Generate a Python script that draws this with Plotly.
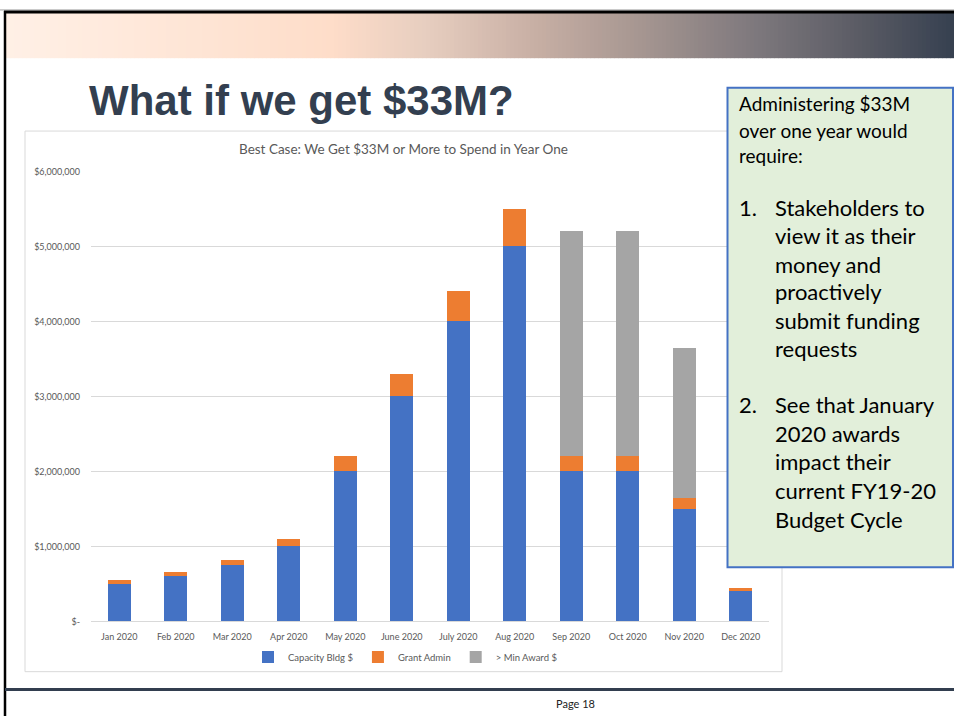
import plotly.graph_objects as go

W, H = 954, 721

months = ["Jan 2020", "Feb 2020", "Mar 2020", "Apr 2020", "May 2020", "June 2020",
          "July 2020", "Aug 2020", "Sep 2020", "Oct 2020", "Nov 2020", "Dec 2020"]
capacity_bldg = [500000, 600000, 750000, 1000000, 2000000, 3000000,
                 4000000, 5000000, 2000000, 2000000, 1500000, 400000]
grant_admin = [50000, 60000, 75000, 100000, 200000, 300000,
               400000, 500000, 200000, 200000, 150000, 40000]
min_award = [0, 0, 0, 0, 0, 0, 0, 0, 3000000, 3000000, 2000000, 0]
y_ticks = [0, 1000000, 2000000, 3000000, 4000000, 5000000, 6000000]
y_ticktext = ["$-", "$1,000,000", "$2,000,000", "$3,000,000", "$4,000,000", "$5,000,000", "$6,000,000"]

box_intro = ["Administering $33M", "over one year would", "require:"]
box_item1 = ["Stakeholders to", "view it as their", "money and", "proactively",
             "submit funding", "requests"]
box_item2 = ["See that January", "2020 awards", "impact their", "current FY19-20",
             "Budget Cycle"]


def px(x):
    return x / W


def py(y):
    return 1 - y / H


fig = go.Figure()
fig.add_trace(go.Bar(name="Capacity Bldg $", x=months, y=capacity_bldg,
                     marker=dict(color="#4472C4", line=dict(width=0))))
fig.add_trace(go.Bar(name="Grant Admin", x=months, y=grant_admin,
                     marker=dict(color="#ED7D31", line=dict(width=0))))
fig.add_trace(go.Bar(name="> Min Award $", x=months, y=min_award,
                     marker=dict(color="#A5A5A5", line=dict(width=0))))

shapes = []
# gradient banner
stops = [(6, (255, 240, 230)), (330, (254, 221, 201)), (430, (230, 205, 191)),
         (530, (201, 176, 165)), (640, (166, 150, 145)), (760, (124, 119, 124)),
         (860, (90, 91, 100)), (954, (54, 64, 80))]
step = 4
x = 6
while x < W:
    xm = x + step / 2
    for i in range(len(stops) - 1):
        if stops[i][0] <= xm <= stops[i + 1][0]:
            t = (xm - stops[i][0]) / (stops[i + 1][0] - stops[i][0])
            c = tuple(int(round(stops[i][1][k] + t * (stops[i + 1][1][k] - stops[i][1][k]))) for k in range(3))
            break
    else:
        c = stops[-1][1]
    shapes.append(dict(type="rect", xref="paper", yref="paper", x0=px(x), x1=px(min(x + step + 0.5, W)),
                       y0=py(53), y1=py(7), fillcolor="rgb(%d,%d,%d)" % c, line=dict(width=0), layer="below"))
    x += step

# slide frame
shapes.append(dict(type="line", xref="paper", yref="paper", x0=0, x1=1, y0=py(4), y1=py(4),
                   line=dict(color="#A0A0A0", width=1)))
shapes.append(dict(type="line", xref="paper", yref="paper", x0=px(4), x1=1, y0=py(6), y1=py(6),
                   line=dict(color="#000000", width=3)))
shapes.append(dict(type="line", xref="paper", yref="paper", x0=px(5), x1=px(5), y0=py(5), y1=0,
                   line=dict(color="#000000", width=2.5)))
# chart box
shapes.append(dict(type="rect", xref="paper", yref="paper", x0=px(25), x1=px(782), y0=py(676), y1=py(127),
                   fillcolor="rgba(0,0,0,0)", line=dict(color="#D9D9D9", width=1), layer="below"))
# text box
shapes.append(dict(type="rect", xref="paper", yref="paper", x0=px(727.5), x1=px(953), y0=py(570), y1=py(83),
                   fillcolor="#E2EFDA", line=dict(color="#4472C4", width=2), layer="above"))
# footer line
shapes.append(dict(type="line", xref="paper", yref="paper", x0=px(5), x1=1, y0=py(694), y1=py(694),
                   line=dict(color="#323E4F", width=3)))

annotations = []
annotations.append(dict(text="<b>What if we get $33M?</b>", x=px(301), y=py(96), xref="paper", yref="paper",
                        showarrow=False, xanchor="center", yanchor="middle",
                        font=dict(family="Liberation Sans, Arial", size=42, color="#333F50")))
annotations.append(dict(text="Best Case: We Get $33M or More to Spend in Year One", x=px(403), y=py(145),
                        xref="paper", yref="paper", showarrow=False, xanchor="center", yanchor="middle",
                        font=dict(family="Lato", size=13.5, color="#595959")))
annotations.append(dict(text="Page 18", x=px(575), y=py(708), xref="paper", yref="paper", showarrow=False,
                        xanchor="center", yanchor="middle", font=dict(family="Lato", size=11, color="#222222")))

box_font = dict(family="Lato", color="#000000")
intro_y = [99, 126, 152]
for t, yy in zip(box_intro, intro_y):
    annotations.append(dict(text=t, x=px(737), y=py(yy), xref="paper", yref="paper", showarrow=False,
                            xanchor="left", yanchor="middle", font=dict(size=19, **box_font)))
item1_y = [205, 233, 262, 290, 319, 348]
item2_y = [405, 434, 463, 492, 521]
annotations.append(dict(text="1.", x=px(737), y=py(item1_y[0]), xref="paper", yref="paper", showarrow=False,
                        xanchor="left", yanchor="middle", font=dict(size=22, **box_font)))
annotations.append(dict(text="2.", x=px(737), y=py(item2_y[0]), xref="paper", yref="paper", showarrow=False,
                        xanchor="left", yanchor="middle", font=dict(size=22, **box_font)))
for t, yy in zip(box_item1, item1_y):
    annotations.append(dict(text=t, x=px(773), y=py(yy), xref="paper", yref="paper", showarrow=False,
                            xanchor="left", yanchor="middle", font=dict(size=22, **box_font)))
for t, yy in zip(box_item2, item2_y):
    annotations.append(dict(text=t, x=px(773), y=py(yy), xref="paper", yref="paper", showarrow=False,
                            xanchor="left", yanchor="middle", font=dict(size=22, **box_font)))

fig.update_layout(
    width=W, height=H,
    margin=dict(l=0, r=0, t=0, b=0),
    paper_bgcolor="white", plot_bgcolor="rgba(0,0,0,0)",
    barmode="stack", bargap=0.59,
    shapes=shapes, annotations=annotations,
    showlegend=True,
    legend=dict(orientation="h", x=px(405), xanchor="center", y=py(661), yanchor="middle",
                font=dict(family="Lato", size=9.5, color="#595959"), itemwidth=30,
                bgcolor="rgba(0,0,0,0)", traceorder="normal"),
    xaxis=dict(domain=[px(91), px(769)], showgrid=False, showline=True, linecolor="#D9D9D9", linewidth=1,
               tickfont=dict(family="Lato", size=9, color="#595959"), ticks="", ticklabelstandoff=7,
               fixedrange=True),
    yaxis=dict(domain=[py(625), py(168)], range=[0, 6000000], tickvals=y_ticks, ticktext=y_ticktext,
               showgrid=True, gridcolor="#D9D9D9", gridwidth=1, zeroline=False, showline=False,
               tickfont=dict(family="Lato", size=9, color="#595959"), ticks="", ticklabelstandoff=10,
               fixedrange=True),
    hovermode=False,
)

fig.write_html("out.html")
